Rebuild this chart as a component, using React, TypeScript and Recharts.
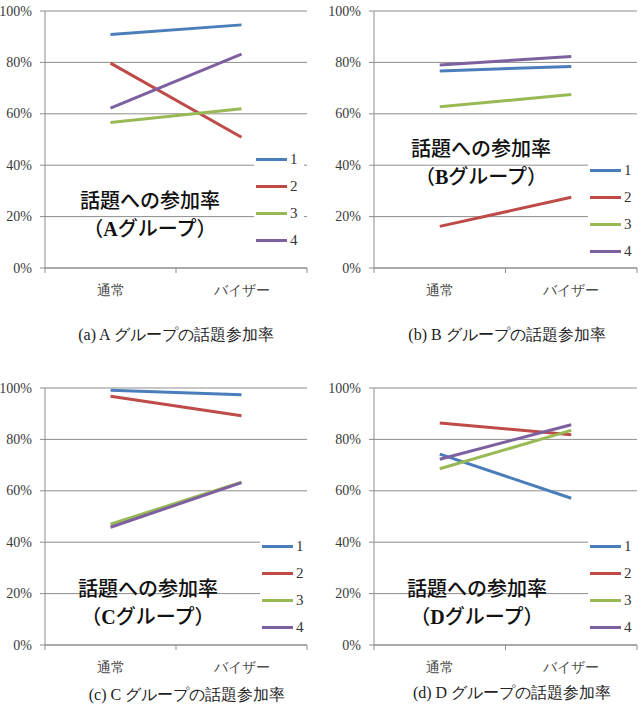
import React from 'react';
import { LineChart, Line, XAxis, YAxis, CartesianGrid, Legend } from 'recharts';

const categories = ['通常', 'バイザー'];
const seriesNames = ['1', '2', '3', '4'];
const seriesColors = ['#4a7ebb', '#be4b48', '#98b954', '#7d60a0'];
const yTicks = [0, 20, 40, 60, 80, 100];

// values per series: [通常, バイザー] (%)
const groupA = [
  [90.9, 94.6],
  [79.7, 50.9],
  [56.6, 62.0],
  [62.2, 83.2],
];
const groupB = [
  [76.7, 78.4],
  [16.2, 27.5],
  [62.7, 67.5],
  [79.0, 82.3],
];
const groupC = [
  [99.1, 97.4],
  [96.8, 89.2],
  [47.0, 63.4],
  [45.8, 63.2],
];
const groupD = [
  [74.3, 57.1],
  [86.4, 81.8],
  [68.6, 83.5],
  [72.3, 85.7],
];

const titleLine1 = '話題への参加率';
const groupLetters = ['A', 'B', 'C', 'D'];
const captions = [
  '(a) A グループの話題参加率',
  '(b) B グループの話題参加率',
  '(c) C グループの話題参加率',
  '(d) D グループの話題参加率',
];

const SERIF = "'Liberation Serif', 'Times New Roman', 'DejaVu Serif', serif";
const GRID = '#8d8d8d';

const buildRows = (g: number[][]) =>
  categories.map((c, i) => {
    const row: any = { cat: c };
    g.forEach((s, k) => {
      row['s' + (k + 1)] = s[i];
    });
    return row;
  });

const makeTick = (p: number) => (props: any) => {
  const { x, y, payload, index } = props;
  return (
    <g>
      {index === 0 && <line x1={x - p} x2={x - p} y1={y} y2={y + 5} stroke={GRID} strokeWidth={1} />}
      <line x1={x + p} x2={x + p} y1={y} y2={y + 5} stroke={GRID} strokeWidth={1} />
      <text
        x={x}
        y={y + 22}
        textAnchor="middle"
        dominantBaseline="central"
        fontSize={14}
        fill="#4a4a4a"
        fontFamily={SERIF}
      >
        {payload.value}
      </text>
    </g>
  );
};

const LegendContent = (props: any) => {
  const { payload } = props;
  return (
    <div style={{ background: '#fff', padding: '0 2px' }}>
      {(payload || []).map((it: any, i: number) => (
        <div key={i} style={{ display: 'flex', alignItems: 'center', height: 27 }}>
          <div style={{ width: 31, height: 3, background: it.color }} />
          <span
            style={{
              marginLeft: 3,
              fontFamily: SERIF,
              fontSize: 15,
              color: '#333',
              lineHeight: '15px',
            }}
          >
            {it.value}
          </span>
        </div>
      ))}
    </div>
  );
};

type PanelProps = {
  left: number;
  top: number;
  group: number[][];
  yAxisWidth: number;
  rightMargin: number;
  legendLeft: number;
  legendTop: number;
  titleCx: number;
  titleCy: number;
  letter: string;
  caption: string;
  capCx: number;
  capCy: number;
};

const W = 321;
const H = 300;

const YTick = (props: any) => {
  const { x, y, payload } = props;
  return (
    <text
      x={x}
      y={y}
      textAnchor="end"
      dominantBaseline="central"
      fontSize={14}
      fill="#3a3a3a"
      fontFamily={SERIF}
    >
      {`${payload.value}%`}
    </text>
  );
};

const Panel = (pp: PanelProps) => {
  const rows = buildRows(pp.group);
  const plotW = W - pp.yAxisWidth - pp.rightMargin;
  const pad = plotW / 4;
  return (
    <>
      <div style={{ position: 'absolute', left: pp.left, top: pp.top, width: W, height: H }}>
        <LineChart
          width={W}
          height={H}
          data={rows}
          margin={{ top: 11, right: pp.rightMargin, left: 0, bottom: 0 }}
        >
          <CartesianGrid vertical={false} stroke={GRID} strokeWidth={1} />
          <XAxis
            dataKey="cat"
            height={32}
            padding={{ left: pad, right: pad }}
            tickLine={false}
            tickSize={0}
            tickMargin={0}
            axisLine={{ stroke: GRID }}
            tick={makeTick(pad)}
            interval={0}
          />
          <YAxis
            type="number"
            domain={[0, 100]}
            ticks={yTicks}
            width={pp.yAxisWidth}
            axisLine={{ stroke: GRID }}
            tickLine={{ stroke: GRID }}
            tickSize={5}
            tickMargin={8}
            tick={<YTick />}
          />
          {seriesNames.map((n, k) => (
            <Line
              key={n}
              type="linear"
              dataKey={'s' + (k + 1)}
              name={n}
              stroke={seriesColors[k]}
              strokeWidth={3}
              dot={false}
              activeDot={false}
              isAnimationActive={false}
            />
          ))}
          <Legend
            layout="horizontal"
            verticalAlign="middle"
            align="center"
            content={<LegendContent />}
            wrapperStyle={{ left: pp.legendLeft, top: pp.legendTop, width: 50, height: 108 }}
          />
        </LineChart>
      </div>
      <div
        style={{
          position: 'absolute',
          left: pp.titleCx - 110,
          top: pp.titleCy - 14,
          width: 220,
          textAlign: 'center',
          fontFamily: "'Noto Sans CJK JP', sans-serif",
          fontSize: 20,
          lineHeight: '28px',
          fontWeight: 500,
          color: '#111',
        }}
      >
        <div>{titleLine1}</div>
        <div>
          （<span style={{ fontFamily: SERIF, fontWeight: 'bold' }}>{pp.letter}</span>グループ）
        </div>
      </div>
      <div
        style={{
          position: 'absolute',
          left: pp.capCx - 150,
          top: pp.capCy - 11,
          width: 300,
          textAlign: 'center',
          fontFamily: SERIF,
          fontSize: 16,
          lineHeight: '22px',
          color: '#222',
        }}
      >
        {pp.caption}
      </div>
    </>
  );
};

export default function App() {
  return (
    <div
      style={{
        position: 'absolute',
        left: 0,
        top: 0,
        width: 642,
        height: 706,
        background: '#fff',
        overflow: 'hidden',
      }}
    >
      <Panel
        left={0}
        top={0}
        group={groupA}
        yAxisWidth={45}
        rightMargin={14}
        legendLeft={254}
        legendTop={146}
        titleCx={150}
        titleCy={200}
        letter={groupLetters[0]}
        caption={captions[0]}
        capCx={176}
        capCy={335}
      />
      <Panel
        left={321}
        top={0}
        group={groupB}
        yAxisWidth={53}
        rightMargin={5}
        legendLeft={267}
        legendTop={157}
        titleCx={481}
        titleCy={148}
        letter={groupLetters[1]}
        caption={captions[1]}
        capCx={507}
        capCy={335}
      />
      <Panel
        left={0}
        top={377}
        group={groupC}
        yAxisWidth={45}
        rightMargin={14}
        legendLeft={260}
        legendTop={156}
        titleCx={148}
        titleCy={588}
        letter={groupLetters[2]}
        caption={captions[2]}
        capCx={187}
        capCy={695}
      />
      <Panel
        left={321}
        top={377}
        group={groupD}
        yAxisWidth={53}
        rightMargin={5}
        legendLeft={267}
        legendTop={156}
        titleCx={477}
        titleCy={588}
        letter={groupLetters[3]}
        caption={captions[3]}
        capCx={512}
        capCy={693}
      />
    </div>
  );
}
